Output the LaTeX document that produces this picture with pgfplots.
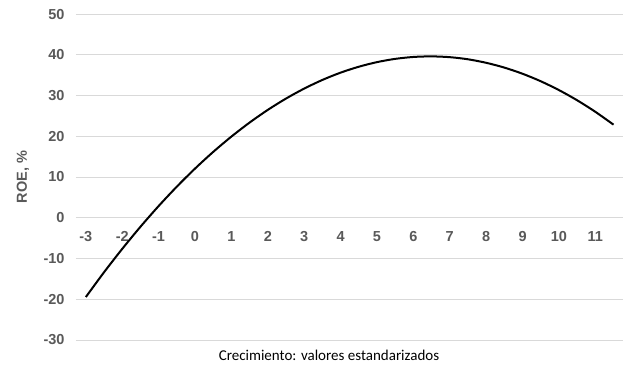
\documentclass[border=0pt]{standalone}
\usepackage{fontspec}
\setmainfont{Liberation Sans}
\newfontfamily\calibri{Carlito}
\usepackage{pgfplots}
\pgfplotsset{compat=1.18}
\definecolor{tickgray}{HTML}{595959}
\definecolor{gridgray}{HTML}{D9D9D9}
\begin{document}
\begin{tikzpicture}
\begin{axis}[
  scale only axis,
  width=547pt, height=326pt,
  xmin=-3.27, xmax=11.76,
  ymin=-30, ymax=50,
  axis x line=middle, axis y line=left,
  axis line style={draw=none},
  major tick length=0pt,
  xtick={-3,-2,...,11},
  ytick={-30,-20,...,50},
  ymajorgrids=true,
  grid style={gridgray, line width=1pt},
  tick label style={font=\fontsize{14.5}{16}\selectfont\bfseries, text=tickgray},
  /pgf/number format/assume math mode=true,
  xticklabel style={yshift=-10pt},
  yticklabel style={xshift=-8pt},
  clip=false,
]
\addplot[black, line width=2pt, smooth] coordinates {
(-3,-19.46) (-2.5,-13.38) (-2,-7.64) (-1.5,-2.22) (-1,2.87) (-0.5,7.63)
(0,12.06) (0.5,16.16) (1,19.92) (1.5,23.36) (2,26.47) (2.5,29.25)
(3,31.70) (3.5,33.82) (4,35.61) (4.5,37.06) (5,38.19) (5.5,38.99)
(6,39.46) (6.5,39.60) (7,39.41) (7.5,38.89) (8,38.03) (8.5,36.85)
(9,35.34) (9.5,33.50) (10,31.33) (10.5,28.83) (11,26.00) (11.5,22.84)
};
\node[font=\calibri\fontsize{15}{17}\selectfont, anchor=center] at ([yshift=-15pt]rel axis cs:0.4625,0) {Crecimiento: valores estandarizados};
\node[font=\fontsize{14.5}{16}\selectfont\bfseries, text=tickgray, rotate=90, anchor=center] at ([xshift=-53pt]rel axis cs:0,0.5) {ROE, \%};
\end{axis}
\path[use as bounding box] (-76pt,-36pt) rectangle (557pt,340pt);
\end{tikzpicture}
\end{document}
